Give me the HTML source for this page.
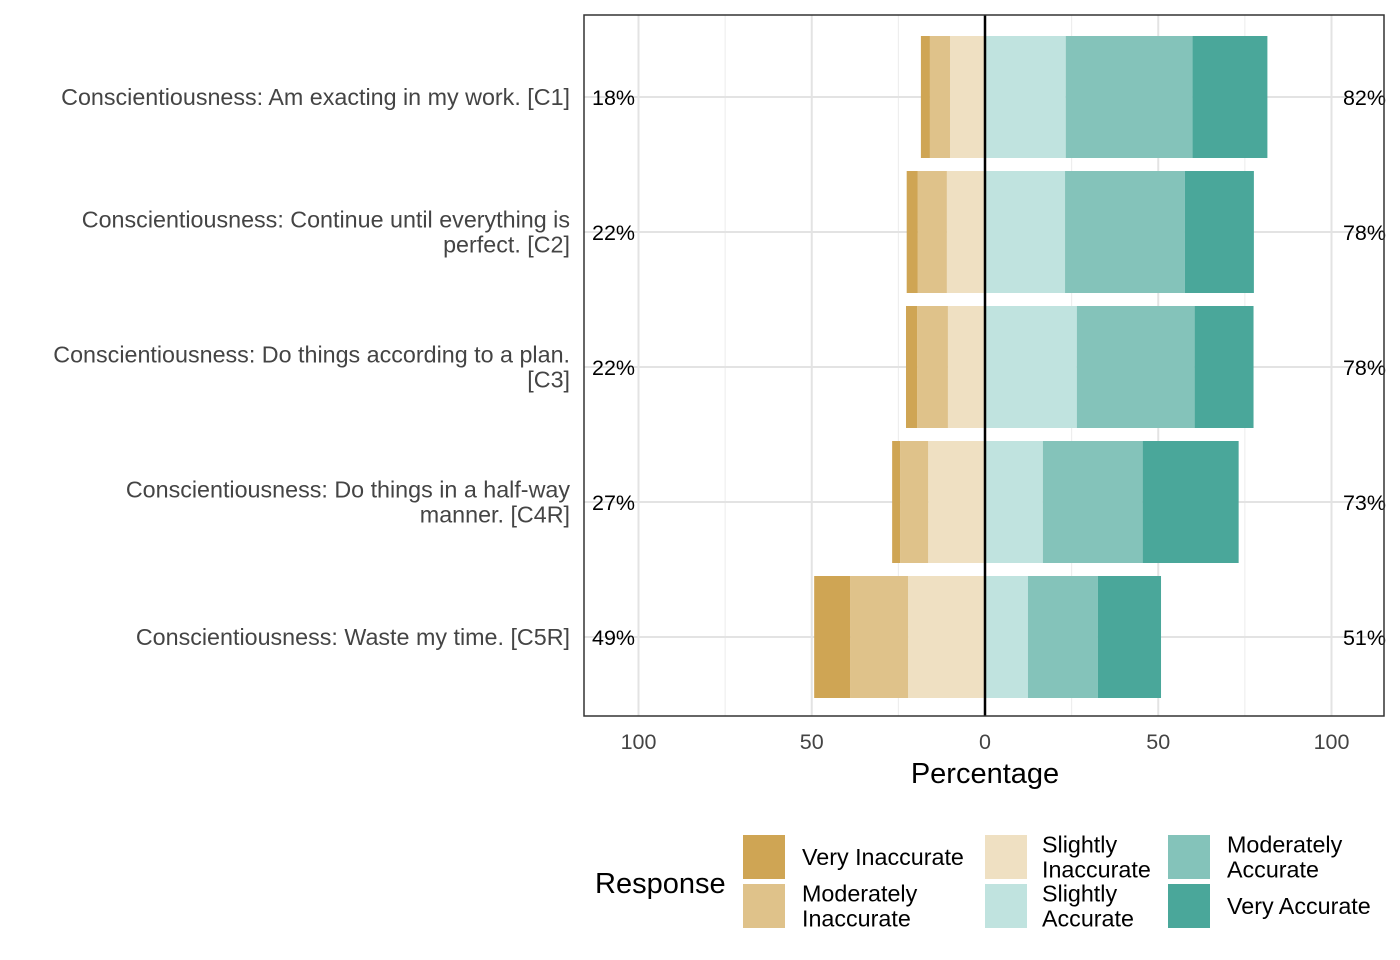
<!DOCTYPE html>
<html><head><meta charset="utf-8"><style>
body{margin:0;background:#fff;font-family:"Liberation Sans",Arial,sans-serif}
svg{display:block}
</style></head><body>
<svg id="chart" width="1400" height="960"></svg>
<script>
const categories=["Conscientiousness: Am exacting in my work. [C1]","Conscientiousness: Continue until everything is|perfect. [C2]","Conscientiousness: Do things according to a plan.|[C3]","Conscientiousness: Do things in a half-way|manner. [C4R]","Conscientiousness: Waste my time. [C5R]"];
const veryInaccurate=[2.6,3.2,3.2,2.3,10.4];
const moderatelyInaccurate=[5.8,8.4,8.9,8.1,16.7];
const slightlyInaccurate=[10.1,11.0,10.7,16.4,22.2];
const slightlyAccurate=[23.3,23.1,26.5,16.7,12.4];
const moderatelyAccurate=[36.6,34.6,34.0,28.8,20.2];
const veryAccurate=[21.6,19.9,17.0,27.7,18.2];
const leftLabels=["18%","22%","22%","27%","49%"];
const rightLabels=["82%","78%","78%","73%","51%"];
const xTicks=[-100,-50,0,50,100];
const xTickLabels=["100","50","0","50","100"];
const minorTicks=[-75,-25,25,75];
const colors=["#cfa554","#dfc28a","#efe0c2","#c0e3df","#84c3ba","#4aa79a"];
const legendNames=["Very Inaccurate","Moderately|Inaccurate","Slightly|Inaccurate","Slightly|Accurate","Moderately|Accurate","Very Accurate"];

const svg=document.getElementById('chart');
const NS='http://www.w3.org/2000/svg';
const P={l:584,r:1384,t:15,b:716};
const x=v=>985+v*3.465;
const y=i=>97+i*135;
const BH=122;
function el(tag,attrs,name,text){const e=document.createElementNS(NS,tag);for(const k in attrs)e.setAttribute(k,attrs[k]);


if(text!==undefined)e.textContent=text;svg.appendChild(e);return e;}
minorTicks.forEach(t=>el('line',{x1:x(t),x2:x(t),y1:P.t,y2:P.b,stroke:'#ececec','stroke-width':1},'minor-gridline'));
xTicks.forEach(t=>el('line',{x1:x(t),x2:x(t),y1:P.t,y2:P.b,stroke:'#e3e3e3','stroke-width':2},'major-gridline'));
categories.forEach((c,i)=>el('line',{x1:P.l,x2:P.r,y1:y(i),y2:y(i),stroke:'#e3e3e3','stroke-width':2},'row-gridline'));
categories.forEach((c,i)=>{
  const neg=[slightlyInaccurate[i],moderatelyInaccurate[i],veryInaccurate[i]];
  const negC=[colors[2],colors[1],colors[0]];
  let cur=0;
  neg.forEach((v,k)=>{el('rect',{x:x(-(cur+v)),y:y(i)-BH/2,width:x(v)-x(0),height:BH,fill:negC[k]},'bar-negative-segment');cur+=v;});
  const pos=[slightlyAccurate[i],moderatelyAccurate[i],veryAccurate[i]];
  cur=0;
  pos.forEach((v,k)=>{el('rect',{x:x(cur),y:y(i)-BH/2,width:x(v)-x(0),height:BH,fill:colors[3+k]},'bar-positive-segment');cur+=v;});
  el('text',{x:592,y:y(i)+8,'font-size':21.5,fill:'#000'},'left-percent-label',leftLabels[i]);
  el('text',{x:1386,y:y(i)+8,'font-size':21.5,fill:'#000','text-anchor':'end'},'right-percent-label',rightLabels[i]);
  const lines=c.split('|');
  lines.forEach((ln,j)=>el('text',{x:570,y:y(i)+8+(j-(lines.length-1)/2)*25,'font-size':23.3,fill:'#444','text-anchor':'end'},'category-label',ln));
});
el('line',{x1:x(0),x2:x(0),y1:P.t,y2:P.b,stroke:'#000','stroke-width':2.5},'zero-line');
el('rect',{x:P.l,y:P.t,width:P.r-P.l,height:P.b-P.t,fill:'none',stroke:'#333','stroke-width':1.5},'plot-border');
xTicks.forEach((t,i)=>el('text',{x:x(t),y:749,'font-size':21.5,fill:'#444','text-anchor':'middle'},'x-tick-label',xTickLabels[i]));
el('text',{x:985,y:783,'font-size':29,fill:'#000','text-anchor':'middle'},'x-axis-title','Percentage');
el('text',{x:595,y:893,'font-size':29,fill:'#000'},'legend-title','Response');
const lx=[743,985,1168],tx=[802,1042,1227],ly=[835,884];
legendNames.forEach((n,k)=>{
  const col=Math.floor(k/2),row=k%2;
  el('rect',{x:lx[col],y:ly[row],width:42,height:44,fill:colors[k]},'legend-key');
  const lines=n.split('|');
  lines.forEach((ln,j)=>el('text',{x:tx[col],y:ly[row]+30+(j-(lines.length-1)/2)*25,'font-size':23.3,fill:'#000'},'legend-label',ln));
});
</script>
</body></html>
